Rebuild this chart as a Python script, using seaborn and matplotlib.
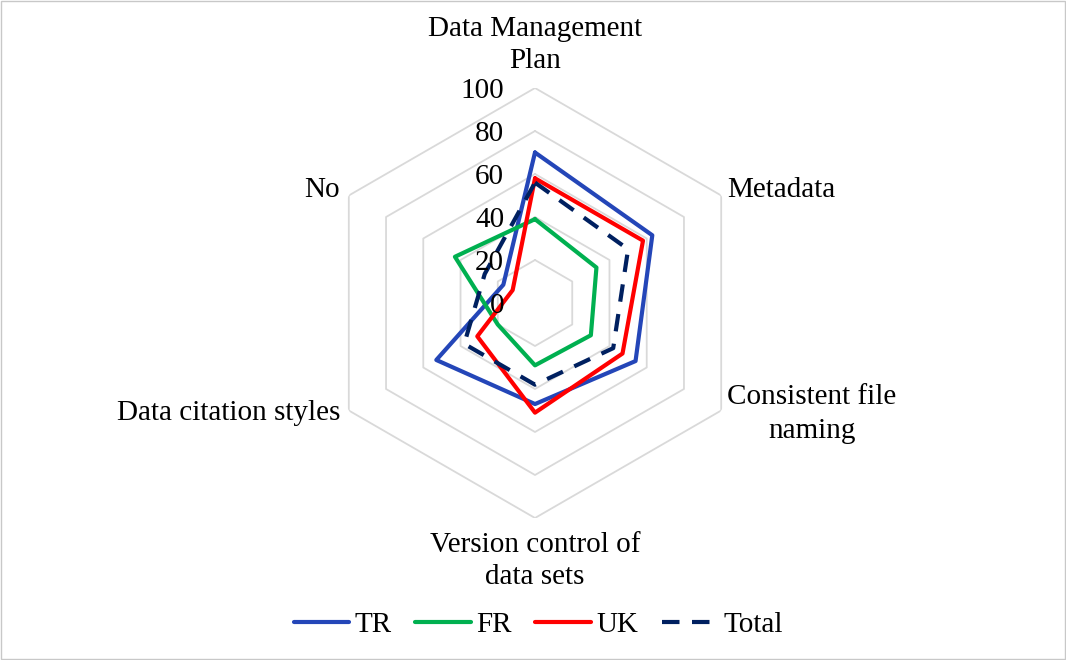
import numpy as np
import pandas as pd
import matplotlib
matplotlib.use("Agg")
import matplotlib.pyplot as plt
from matplotlib.transforms import offset_copy
from matplotlib.patches import Rectangle
import seaborn as sns

# ---- data ----
categories = ["Data Management\nPlan", "Metadata", "Consistent file\nnaming",
              "Version control of\ndata sets", "Data citation styles", "No"]
series_names = ["TR", "FR", "UK", "Total"]
tr_vals = [70, 63, 54, 47, 53, 17]
fr_vals = [39, 33, 30, 29, 20, 43]
uk_vals = [58, 58, 47, 51, 31, 12]
total_vals = [56, 50, 42, 38, 38, 27]
r_ticks = [0, 20, 40, 60, 80, 100]

sns.set_theme(style="white")
plt.rcParams["font.family"] = ["Liberation Serif", "DejaVu Serif"]
plt.rcParams["text.color"] = "black"
plt.rcParams["legend.labelcolor"] = "black"

FS = 21
W, H = 1066, 660
fig = plt.figure(figsize=(W / 100, H / 100), dpi=100)

def px(x, y):
    return (x / W, 1 - y / H)

cx, cy, R = 535, 303, 215
ax = fig.add_axes([(cx - R) / W, (H - cy - R) / H, 2 * R / W, 2 * R / H], projection="polar")
ax.set_theta_offset(np.pi / 2)
ax.set_theta_direction(-1)
ax.set_ylim(0, 100)
ax.grid(False)
ax.spines["polar"].set_visible(False)
ax.set_facecolor("none")

n = len(categories)
angles = np.arange(n) * 2 * np.pi / n
closed = np.append(angles, 2 * np.pi)

# hexagonal grid rings
for r in r_ticks[1:]:
    ax.plot(closed, [r] * (n + 1), color="#d9d9d9", lw=1.3, zorder=1)

colors = ["#2446B8", "#00B050", "#FF0000", "#002060"]
styles = ["-", "-", "-", (0, (4.2, 3.0))]
all_vals = [tr_vals, fr_vals, uk_vals, total_vals]
handles = []
for name, vals, c, ls in zip(series_names, all_vals, colors, styles):
    df = pd.DataFrame({"angle": closed, "value": list(vals) + [vals[0]]})
    sns.lineplot(data=df, x="angle", y="value", ax=ax, color=c, lw=3.0,
                 sort=False, estimator=None, errorbar=None, linestyle=ls,
                 zorder=3)
    handles.append(ax.lines[-1])
ax.set_xlabel("")
ax.set_ylabel("")
ax.set_xticks([])
ax.set_yticks([])
ax.set_ylim(0, 100)

# radial tick labels
tr_off = offset_copy(ax.transData, fig=fig, x=-31, y=0, units="dots")
for r in r_ticks:
    ax.text(0, r, str(r), transform=tr_off, ha="right", va="center_baseline",
            fontsize=FS, color="black", zorder=5)

# category labels
label_pos = [((535, 45), "center"), ((727, 190), "left"), ((727, 414), "left"),
             ((535, 561), "center"), ((340, 413), "right"), ((340, 190), "right")]
for lab, ((x, y), ha) in zip(categories, label_pos):
    fig.text(*px(x, y), lab, ha=ha, va="center", multialignment="center",
             fontsize=FS, linespacing=1.35, color="black")

fig.legend(handles, series_names, loc="center", bbox_to_anchor=px(538, 625),
           ncol=4, frameon=False, fontsize=FS, handlelength=1.9,
           handletextpad=0.2, columnspacing=0.8, labelcolor="black")

fig.patches.append(Rectangle((0.0005, 0.001), 0.999, 0.998, transform=fig.transFigure,
                             fill=False, edgecolor="#c8c8c8", lw=1))

fig.savefig("out.png", dpi=100)
